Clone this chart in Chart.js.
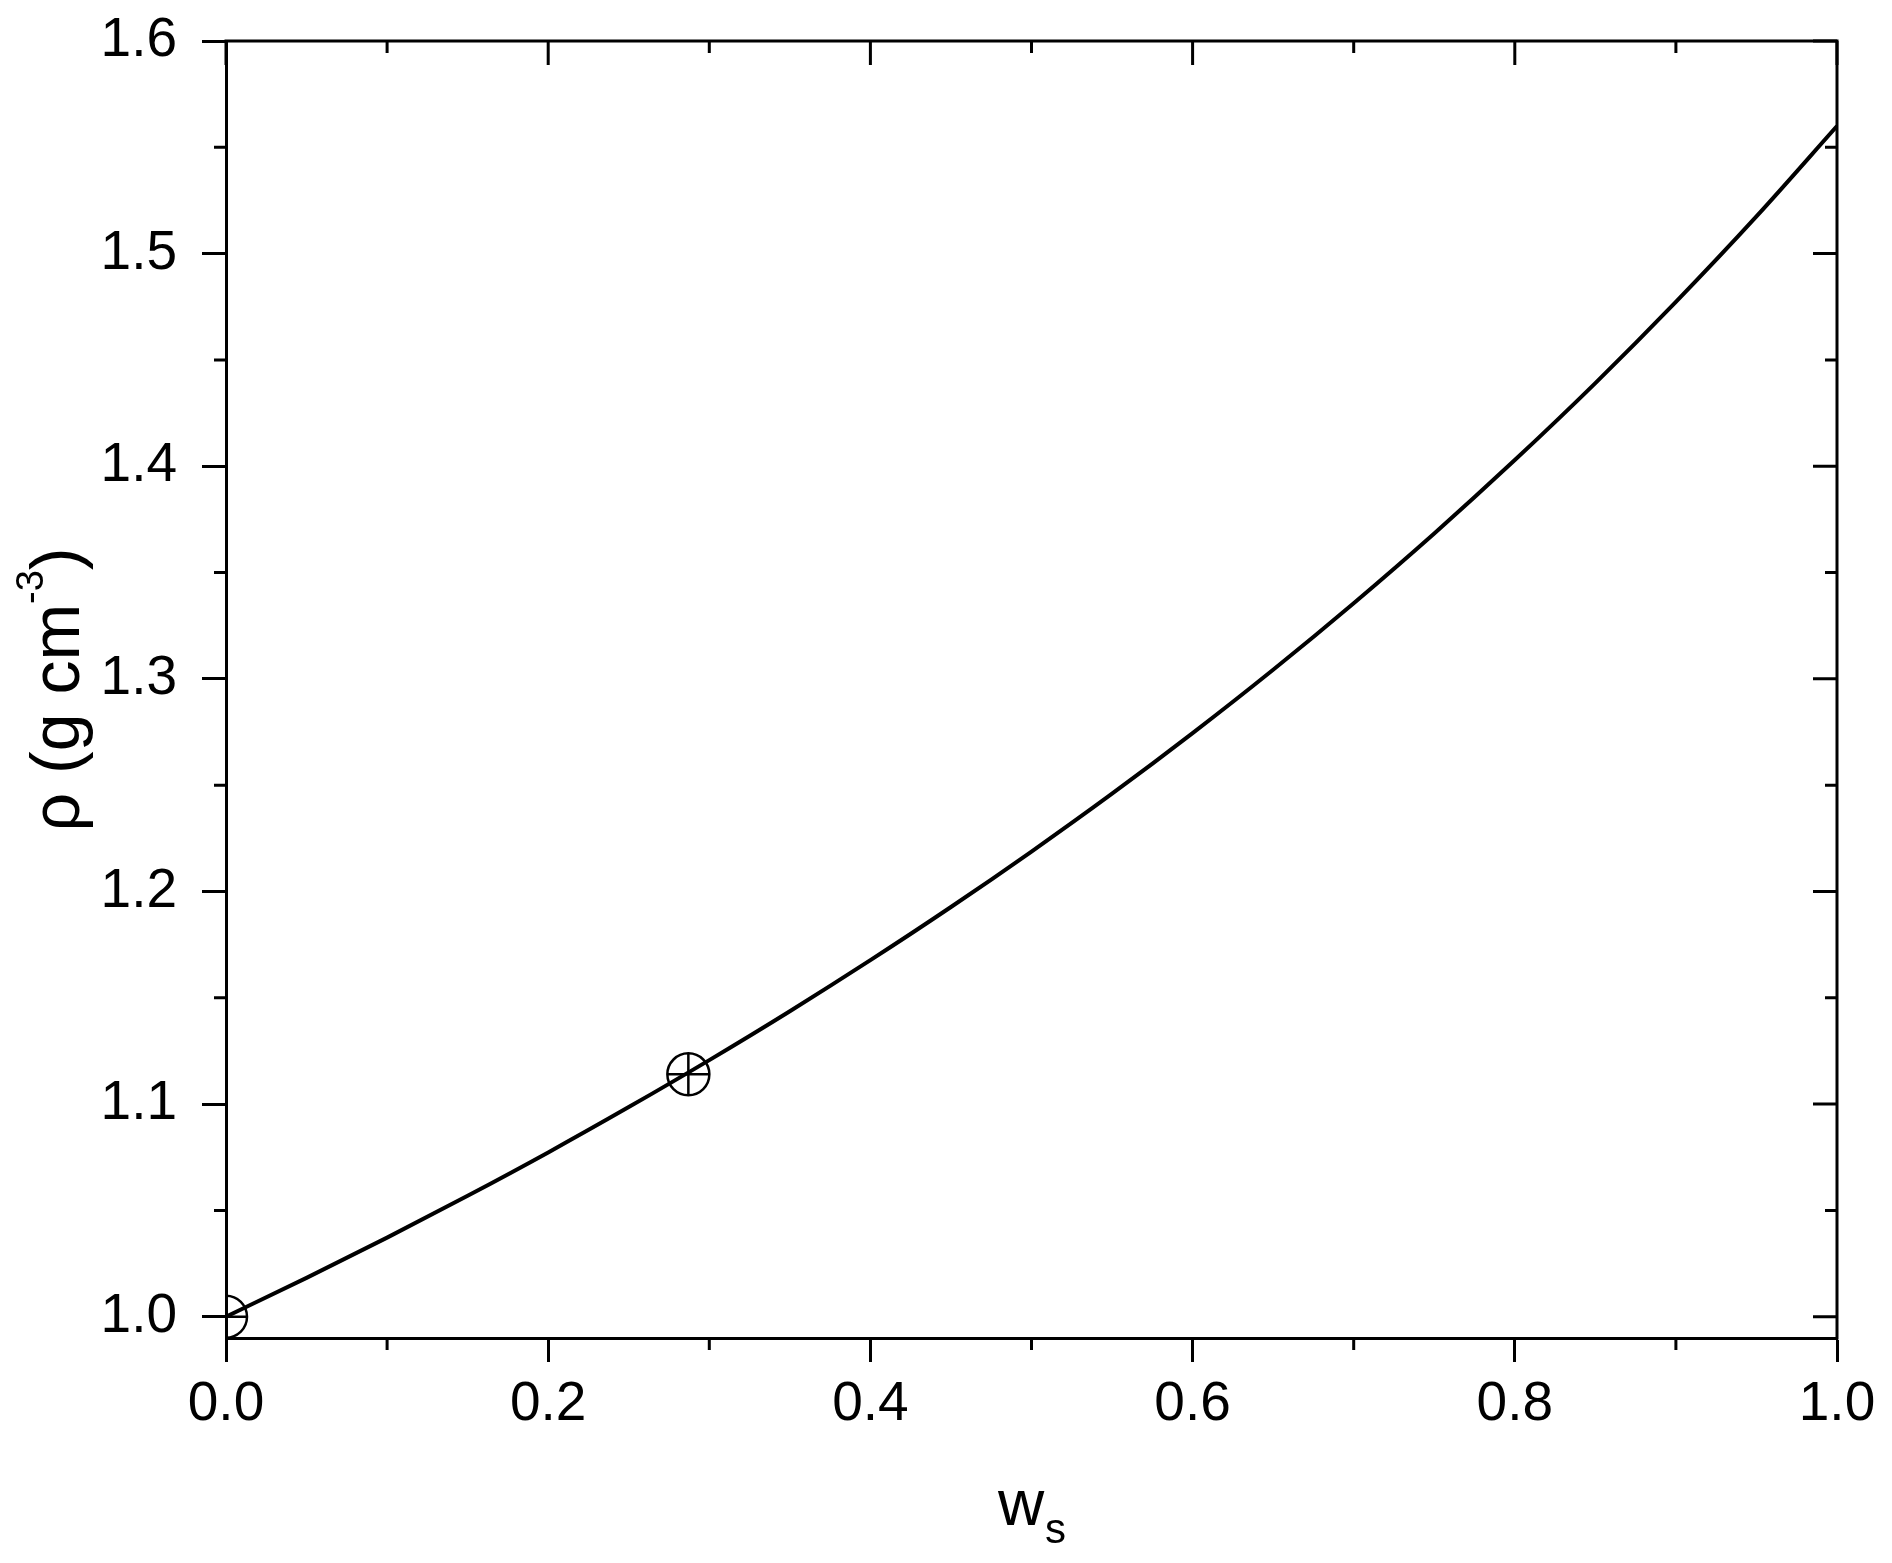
<!DOCTYPE html>
<html>
<head>
<meta charset="utf-8">
<script src="https://cdn.jsdelivr.net/npm/chart.js@4.4.1/dist/chart.umd.min.js"></script>
<style>
  html, body { margin: 0; padding: 0; background: #fff; }
  #wrap { width: 1892px; height: 1563px; position: relative; }
</style>
</head>
<body>
<div id="wrap"><canvas id="densityChart"></canvas></div>
<script>
// mass fraction of solute vs solution density
const wsValues = [0, 0.05, 0.1, 0.15, 0.2, 0.25, 0.3, 0.35, 0.4, 0.45, 0.5,
                  0.55, 0.6, 0.65, 0.7, 0.75, 0.8, 0.85, 0.9, 0.95, 1.0];
const rhoValues = [1.0000, 1.0183, 1.0372, 1.0569, 1.0773, 1.0986, 1.1207, 1.1437, 1.1677, 1.1927, 1.2188,
                   1.2460, 1.2745, 1.3043, 1.3356, 1.3684, 1.4029, 1.4391, 1.4773, 1.5175, 1.5600];
// the two marked points (circle with cross)
const markerWs = [0, 0.287];
const markerRho = [1.000, 1.114];

const FONT = '"Liberation Sans", Arial, sans-serif';

const curvePoints = wsValues.map((w, i) => ({ x: w, y: rhoValues[i] }));
const markerPoints = markerWs.map((w, i) => ({ x: w, y: markerRho[i] }));

// frame, mirrored/minor ticks and the axis titles (sub/superscripts)
const frameAndTitles = {
    id: 'frameAndTitles',
    afterDraw(chart) {
        const { ctx, chartArea: a, scales: { x, y } } = chart;
        ctx.save();
        ctx.strokeStyle = '#000';
        ctx.lineWidth = 3;
        ctx.lineCap = 'butt';

        ctx.beginPath();
        ctx.moveTo(a.left - 1.5, a.top);
        ctx.lineTo(a.right, a.top);
        ctx.lineTo(a.right, a.bottom + 1.5);
        ctx.stroke();

        ctx.beginPath();
        // x: top major/minor inward, bottom minor outward
        x.ticks.forEach((t, i) => {
            const px = x.getPixelForValue(t.value);
            ctx.moveTo(px, a.top); ctx.lineTo(px, a.top + 24);
            if (i < x.ticks.length - 1) {
                const mx = x.getPixelForValue((t.value + x.ticks[i + 1].value) / 2);
                ctx.moveTo(mx, a.top); ctx.lineTo(mx, a.top + 12);
                ctx.moveTo(mx, a.bottom); ctx.lineTo(mx, a.bottom + 12);
            }
        });
        // y: right major/minor inward, left minor outward
        y.ticks.forEach((t, i) => {
            const py = y.getPixelForValue(t.value);
            ctx.moveTo(a.right, py); ctx.lineTo(a.right - 24, py);
            if (i < y.ticks.length - 1) {
                const my = y.getPixelForValue((t.value + y.ticks[i + 1].value) / 2);
                ctx.moveTo(a.right, my); ctx.lineTo(a.right - 12, my);
                ctx.moveTo(a.left, my); ctx.lineTo(a.left - 12, my);
            }
        });
        ctx.stroke();

        ctx.fillStyle = '#000';
        ctx.textBaseline = 'alphabetic';
        ctx.textAlign = 'left';

        // x title: w with subscript s
        const cx = (a.left + a.right) / 2;
        ctx.font = '64px ' + FONT;
        const wW = ctx.measureText('w').width;
        ctx.font = '42px ' + FONT;
        const sW = ctx.measureText('s').width;
        let sx = cx - (wW + sW) / 2;
        ctx.font = '64px ' + FONT;
        ctx.fillText('w', sx, a.bottom + 187);
        ctx.font = '42px ' + FONT;
        ctx.fillText('s', sx + wW + 1, a.bottom + 205);

        // y title: rho (g cm^-3)
        const cy = (a.top + a.bottom) / 2;
        ctx.translate(79, cy);
        ctx.rotate(-Math.PI / 2);
        ctx.font = '68px ' + FONT;
        const mainW = ctx.measureText('ρ (g cm').width;
        const parW = ctx.measureText(')').width;
        ctx.font = '38px ' + FONT;
        const supW = ctx.measureText('-3').width;
        let tx = -(mainW + supW + parW) / 2;
        ctx.font = '68px ' + FONT;
        ctx.fillText('ρ (g cm', tx, 0);
        tx += mainW;
        ctx.font = '38px ' + FONT;
        ctx.fillText('-3', tx, -36);
        tx += supW;
        ctx.font = '68px ' + FONT;
        ctx.fillText(')', tx, 0);

        ctx.restore();
    }
};

const ctx = document.getElementById('densityChart').getContext('2d');
const densityChart = new Chart(ctx, {
    type: 'scatter',
    data: {
        datasets: [{
            label: 'rho',
            data: curvePoints,
            showLine: true,
            borderColor: '#000',
            borderWidth: 4,
            pointRadius: 0,
            cubicInterpolationMode: 'monotone',
            fill: false
        }, {
            label: 'points',
            data: markerPoints,
            pointStyle: 'circle',
            pointRadius: 21,
            pointBorderWidth: 2.5,
            pointBorderColor: '#000',
            pointBackgroundColor: 'rgba(0,0,0,0)',
            showLine: false
        }, {
            label: 'points cross',
            data: markerPoints,
            pointStyle: 'cross',
            pointRadius: 21,
            pointBorderWidth: 2.5,
            pointBorderColor: '#000',
            showLine: false
        }]
    },
    options: {
        responsive: true,
        maintainAspectRatio: false,
        animation: false,
        layout: {
            padding: { top: 41, right: 55, left: 0, bottom: 0 }
        },
        plugins: {
            legend: { display: false },
            tooltip: { enabled: false }
        },
        scales: {
            x: {
                type: 'linear',
                position: 'bottom',
                min: 0,
                max: 1,
                ticks: {
                    stepSize: 0.2,
                    color: '#000',
                    padding: 10,
                    maxRotation: 0,
                    font: { family: FONT, size: 55 },
                    callback: v => v.toFixed(1)
                },
                grid: {
                    drawOnChartArea: false,
                    drawTicks: true,
                    tickLength: 24,
                    tickWidth: 3,
                    tickColor: '#000'
                },
                border: { display: true, color: '#000', width: 3 },
                afterFit: scale => {
                    scale.height = 225;
                    scale.paddingLeft = 0;
                    scale.paddingRight = 0;
                }
            },
            y: {
                type: 'linear',
                min: 0.99,
                max: 1.6,
                ticks: {
                    stepSize: 0.1,
                    includeBounds: false,
                    color: '#000',
                    padding: 25,
                    font: { family: FONT, size: 55 },
                    callback: v => v.toFixed(1)
                },
                grid: {
                    drawOnChartArea: false,
                    drawTicks: true,
                    tickLength: 24,
                    tickWidth: 3,
                    tickColor: '#000'
                },
                border: { display: true, color: '#000', width: 3 },
                afterFit: scale => {
                    scale.width = 226;
                    scale.paddingTop = 0;
                    scale.paddingBottom = 0;
                }
            }
        }
    },
    plugins: [frameAndTitles]
});
</script>
</body>
</html>
